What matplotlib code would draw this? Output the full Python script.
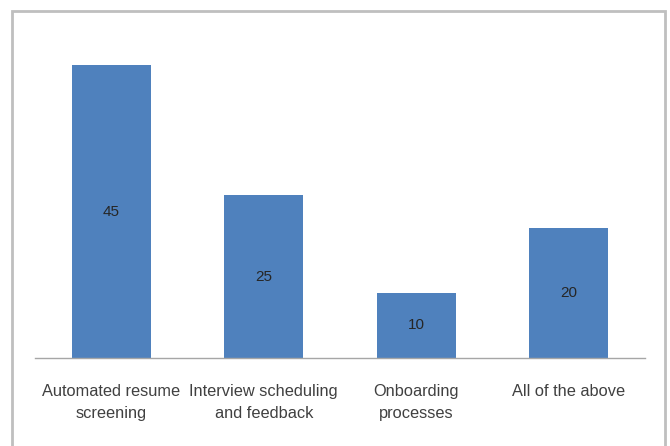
import matplotlib
matplotlib.use("Agg")
import matplotlib.pyplot as plt
from matplotlib.patches import Rectangle

categories = ["Automated resume\nscreening", "Interview scheduling\nand feedback",
              "Onboarding\nprocesses", "All of the above"]
values = [45, 25, 10, 20]

plt.rcParams["font.family"] = ["Liberation Sans", "DejaVu Sans"]

fig = plt.figure(figsize=(6.7, 4.46), dpi=100)
ax = fig.add_axes([35 / 670, 88 / 446, 610 / 670, 325.5 / 446])

bars = ax.bar(range(len(values)), values, width=0.52, color="#4F81BD")
for b, v in zip(bars, values):
    ax.text(b.get_x() + b.get_width() / 2, v / 2, str(v), ha="center", va="center",
            fontsize=11, color="#262626")

ax.set_xlim(-0.5, 3.5)
ax.set_ylim(0, 50)
ax.set_xticks(range(len(values)))
ax.set_xticklabels(categories, fontsize=11.8, color="#404040", linespacing=1.55)
ax.tick_params(axis="x", length=0, pad=19)
ax.set_yticks([])
for s in ["top", "right", "left"]:
    ax.spines[s].set_visible(False)
ax.spines["bottom"].set_color("#A6A6A6")
ax.spines["bottom"].set_linewidth(1)

# outer chart frame
fig.patches.append(Rectangle((12 / 670, -0.05), 653 / 670, 1 - 11 / 446 + 0.05,
                             transform=fig.transFigure, fill=False,
                             edgecolor="#BFBFBF", linewidth=2))

fig.savefig("out.png", dpi=100)
